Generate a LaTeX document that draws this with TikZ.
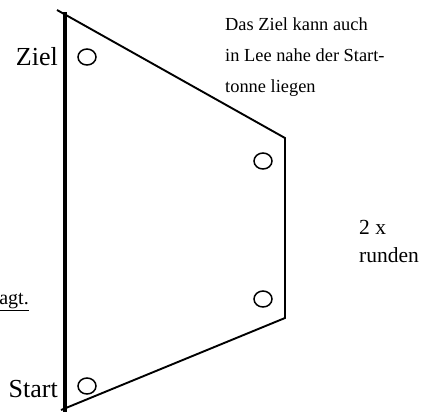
\documentclass[tikz,border=0pt]{standalone}
\usepackage{fontspec}
\setmainfont{Liberation Serif}
\usetikzlibrary{shapes.geometric}

\begin{document}
\begin{tikzpicture}[
        x=1pt, y=-1pt,
        buoy/.style={draw, ellipse, line width=1.5pt, inner sep=0pt, minimum width=18pt, minimum height=16pt},
        lbl/.style={inner sep=0pt, font=\fontsize{26}{26}\selectfont},
        note/.style={inner sep=0pt, align=left, font=\fontsize{18.4}{31}\selectfont},
        laps/.style={inner sep=0pt, align=left, font=\fontsize{21.5}{28}\selectfont},
        startline/.style={line width=3.2pt},
        course/.style={line width=1.9pt, line join=miter},
      ]

      \useasboundingbox (0,0) rectangle (421,416);

      % start line and course
      \coordinate (top) at (65,12);
      \coordinate (bot) at (65,412);
      \coordinate (tl) at (57,10);
      \coordinate (tr) at (285,138);
      \coordinate (br) at (285,318);
      \coordinate (bl) at (61,410);

      \draw[startline] (top) -- (bot);
      \draw[course] (tl) -- (tr) -- (br) -- (bl);

      % buoys
      \node[buoy] (ziel) at (87,57) {};
      \node[buoy] (luv) at (263,161) {};
      \node[buoy] (lee) at (263,299) {};
      \node[buoy] (start) at (87,386) {};

      \node[lbl, anchor=base east] (ziellbl) at (58,65) {Ziel};
      \node[lbl, anchor=base east] (startlbl) at (58,397) {Start};

      % base of a multi-line node is its last line
      \node[note, anchor=base west] (hint) at (225,92) {Das Ziel kann auch\\in Lee nahe der Start-\\tonne liegen};

      \node[laps, anchor=base west] (rounds) at (359,262) {2 x\\runden};

      \node[note, font=\fontsize{20}{20}\selectfont, anchor=base east] (cut) at (29,304) {\underline{agt.}};

    \end{tikzpicture}
\end{document}
